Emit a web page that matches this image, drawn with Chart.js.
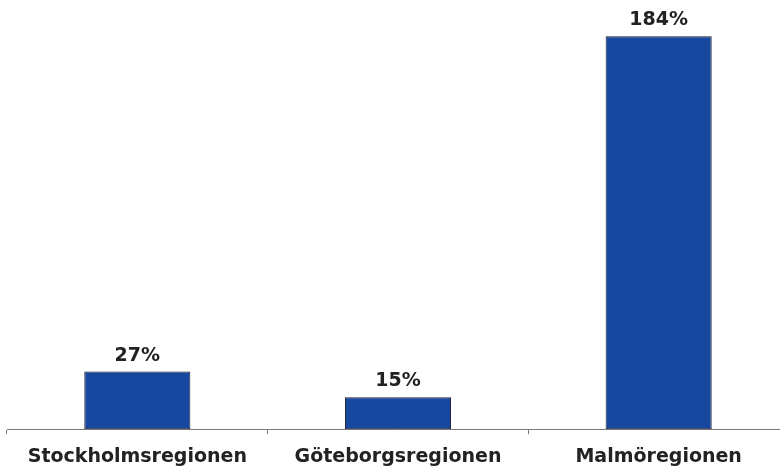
<!DOCTYPE html>
<html lang="sv">
  <head>
    <meta charset="UTF-8">
    <title>Regioner</title>
    <script src="https://cdn.jsdelivr.net/npm/chart.js"></script>
    <style>
      html, body { margin: 0; padding: 0; background: #ffffff; overflow: hidden; }
      /* the plot runs a little past the right edge of the window, as in the original */
      #wrap { width: 789px; height: 466px; }
    </style>
  </head>
  <body>
    <div id="wrap"><canvas id="chart"></canvas></div>
    <script>
      const regions = ["Stockholmsregionen", "Göteborgsregionen", "Malmöregionen"];
      const growth = [27, 15, 184];

      const labelFont = { family: "'DejaVu Sans', sans-serif", size: 19, weight: "bold" };

      // percent labels above each bar
      const valueLabels = {
        id: "valueLabels",
        afterDatasetsDraw(chart) {
          const ctx = chart.ctx;
          const meta = chart.getDatasetMeta(0);
          ctx.save();
          ctx.font = "bold 19px 'DejaVu Sans', sans-serif";
          ctx.fillStyle = "#222222";
          ctx.textAlign = "center";
          ctx.textBaseline = "alphabetic";
          meta.data.forEach((bar, i) => {
            ctx.fillText(growth[i] + "%", bar.x, bar.y - 11);
          });
          ctx.restore();
        },
      };

      new Chart(document.getElementById("chart"), {
        type: "bar",
        data: {
          labels: regions,
          datasets: [{
            data: growth,
            backgroundColor: "#17479e",
            borderColor: "#1c1c2a",
            borderWidth: 1,
            borderSkipped: false,
            barPercentage: 1,
            categoryPercentage: 0.407,
          }],
        },
        options: {
          responsive: true,
          maintainAspectRatio: false,
          animation: false,
          layout: { padding: { left: 7, right: 0, top: 2, bottom: -13 } },
          plugins: {
            legend: { display: false },
            tooltip: { enabled: false },
          },
          scales: {
            x: {
              grid: {
                drawOnChartArea: false,
                drawTicks: true,
                tickLength: 5,
                color: "#7a7a7a",
                offset: true,
              },
              border: { color: "#7a7a7a", width: 1 },
              ticks: {
                color: "#222222",
                font: labelFont,
                padding: 11,
                maxRotation: 0,
              },
            },
            y: {
              display: false,
              min: 0,
              max: 200,
            },
          },
        },
        plugins: [valueLabels],
      });
    </script>
  </body>
</html>
